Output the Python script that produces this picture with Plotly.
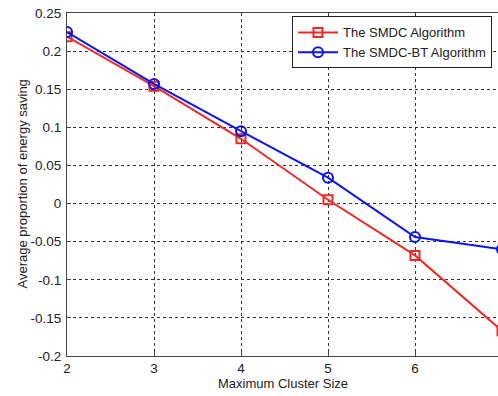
import plotly.graph_objects as go

cluster_size = [2, 3, 4, 5, 6, 7]
smdc = [0.219, 0.154, 0.085, 0.005, -0.068, -0.167]
smdc_bt = [0.225, 0.157, 0.095, 0.034, -0.044, -0.060]
y_ticks = [-0.2, -0.15, -0.1, -0.05, 0, 0.05, 0.1, 0.15, 0.2, 0.25]
y_tick_text = ["-0.2", "-0.15", "-0.1", "-0.05", "0", "0.05", "0.1", "0.15", "0.2", "0.25"]
x_title = "Maximum Cluster Size"
y_title = "Average proportion of energy saving"

fig = go.Figure()
fig.add_trace(go.Scatter(x=cluster_size, y=smdc, mode="lines+markers",
                         name="The SMDC Algorithm",
                         line=dict(color="#ee2a24", width=2),
                         marker=dict(symbol="square-open", size=9, color="#ee2a24",
                                     line=dict(width=2, color="#ee2a24"))))
fig.add_trace(go.Scatter(x=cluster_size, y=smdc_bt, mode="lines+markers",
                         name="The SMDC-BT Algorithm",
                         line=dict(color="#0a14f0", width=2),
                         marker=dict(symbol="circle-open", size=10, color="#0a14f0",
                                     line=dict(width=2, color="#0a14f0"))))

fig.update_layout(
    width=498, height=396,
    margin=dict(l=67, r=0, t=13, b=40, autoexpand=False),
    paper_bgcolor="white", plot_bgcolor="white",
    font=dict(family="Liberation Sans, Arial, sans-serif", size=13, color="#222"),
    showlegend=True,
    legend=dict(x=0.522, y=0.99, xanchor="left", yanchor="top",
                bgcolor="white", bordercolor="#222", borderwidth=1,
                font=dict(size=13), tracegroupgap=0, itemwidth=40),
    xaxis=dict(range=[2, 6.954], tickvals=cluster_size, showgrid=True,
               gridcolor="#333", griddash="dot", gridwidth=1,
               showline=True, linecolor="#444", linewidth=1, mirror=True,
               ticks="inside", ticklen=4, zeroline=False, automargin=False,
               tickfont=dict(size=13.5)),
    yaxis=dict(range=[-0.2, 0.25], tickvals=y_ticks, ticktext=y_tick_text,
               showgrid=True, gridcolor="#333", griddash="dot", gridwidth=1,
               showline=True, linecolor="#444", linewidth=1, mirror=False,
               ticks="inside", ticklen=4, zeroline=False, automargin=False,
               tickfont=dict(size=13.5), ticklabelstandoff=2),
    annotations=[
        dict(text=x_title, xref="paper", yref="paper", x=0.5, y=0,
             xanchor="center", yanchor="middle", yshift=-27, showarrow=False,
             font=dict(size=13)),
        dict(text=y_title, xref="paper", yref="paper", x=0, y=0.5,
             xanchor="center", yanchor="middle", xshift=-45, textangle=-90,
             showarrow=False, font=dict(size=13)),
    ],
)

fig.write_html("out.html", config={"displayModeBar": False})
with open("out.html", encoding="utf-8") as f:
    html = f.read()
html = html.replace("<head>", "<head><style>html,body{margin:0;padding:0;}</style>", 1)
with open("out.html", "w", encoding="utf-8") as f:
    f.write(html)
